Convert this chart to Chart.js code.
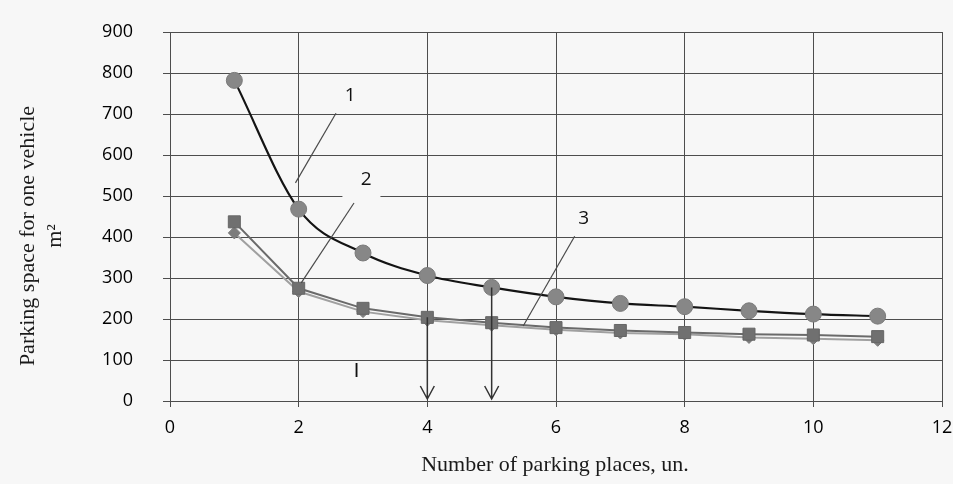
<!DOCTYPE html>
<html>
<head>
<meta charset="utf-8">
<script src="https://cdn.jsdelivr.net/npm/chart.js@4/dist/chart.umd.min.js"></script>
<style>
  html, body { margin: 0; padding: 0; background: #f7f7f7; }
  #wrap { width: 953px; height: 484px; }
</style>
</head>
<body>
<div id="wrap"><canvas id="parkingChart" width="953" height="484"></canvas></div>
<script>
// number of parking places
const places = [1, 2, 3, 4, 5, 6, 7, 8, 9, 10, 11];
// parking space for one vehicle, m2
const curve1 = [782, 468, 361, 306, 277, 254, 238, 230, 220, 212, 207];
const curve2 = [437, 275, 226, 204, 191, 179, 172, 167, 163, 161, 157];
const curve3 = [410, 267, 218, 197, 185, 174, 166, 163, 155, 152, 148];

const xTicks = [0, 2, 4, 6, 8, 10, 12];
const yTicks = [0, 100, 200, 300, 400, 500, 600, 700, 800, 900];

// curve labels with leader lines, in data units
const curveLabels = ["1", "2", "3"];
const labelAt = [[2.8, 746], [3.05, 539], [6.43, 446]];
const leaderFrom = [[2.58, 702], [2.86, 483], [6.29, 402]];
const leaderTo = [[1.95, 532], [2.04, 288], [5.49, 183]];

// arrows down to the x axis
const arrowX = [4, 5];
const arrowFrom = [204, 277];

const markI = { text: "I", x: 2.9, y: 71 };

const BG = "#f7f7f7";
const GRID = "#4d4d4d";

const toPoints = vals => vals.map((v, i) => ({ x: places[i], y: v }));

const annotations = {
    id: "annotations",
    afterDatasetsDraw(chart){
        const ctx = chart.ctx;
        const xs = chart.scales.x;
        const ys = chart.scales.y;
        ctx.save();
        // gap in the grid behind label 2
        ctx.fillStyle = BG;
        ctx.fillRect(xs.getPixelForValue(2.68), ys.getPixelForValue(500) - 4, 38, 8);

        // leader lines
        ctx.strokeStyle = "#4a4a4a";
        ctx.lineWidth = 1.2;
        for(let i = 0; i < curveLabels.length; i++){
            ctx.beginPath();
            ctx.moveTo(xs.getPixelForValue(leaderFrom[i][0]), ys.getPixelForValue(leaderFrom[i][1]));
            ctx.lineTo(xs.getPixelForValue(leaderTo[i][0]), ys.getPixelForValue(leaderTo[i][1]));
            ctx.stroke();
        }
        // labels
        ctx.fillStyle = "#111";
        ctx.font = "19px 'Open Sans'";
        ctx.textAlign = "center";
        ctx.textBaseline = "middle";
        for(let i = 0; i < curveLabels.length; i++){
            ctx.fillText(curveLabels[i], xs.getPixelForValue(labelAt[i][0]), ys.getPixelForValue(labelAt[i][1]));
        }
        ctx.font = "20px 'Liberation Sans'";
        ctx.fillText(markI.text, xs.getPixelForValue(markI.x), ys.getPixelForValue(markI.y));

        // arrows
        ctx.strokeStyle = "#333";
        ctx.lineWidth = 1.5;
        for(let i = 0; i < arrowX.length; i++){
            const px = xs.getPixelForValue(arrowX[i]);
            const top = ys.getPixelForValue(arrowFrom[i]);
            const bot = ys.getPixelForValue(0) - 2;
            ctx.beginPath();
            ctx.moveTo(px, top);
            ctx.lineTo(px, bot);
            ctx.moveTo(px - 7, bot - 13);
            ctx.lineTo(px, bot);
            ctx.lineTo(px + 7, bot - 13);
            ctx.stroke();
        }
        ctx.restore();
    },
    afterDraw(chart){
        const ctx = chart.ctx;
        ctx.save();
        ctx.fillStyle = "#1a1a1a";
        ctx.textAlign = "center";
        ctx.textBaseline = "middle";
        ctx.font = "22px 'Liberation Serif'";
        ctx.fillText("Number of parking places, un.", 555, 465);
        ctx.translate(28, 236);
        ctx.rotate(-Math.PI / 2);
        ctx.font = "22px 'Liberation Serif'";
        ctx.fillText("Parking space for one vehicle", 0, 0);
        ctx.fillText("m\u00B2", 0, 27);
        ctx.restore();
    }
};

new Chart(document.getElementById("parkingChart"), {
    type: "scatter",
    data: {
        datasets: [
            {
                label: "1",
                data: toPoints(curve1),
                showLine: true,
                borderColor: "#141414",
                borderWidth: 2.2,
                cubicInterpolationMode: "monotone",
                pointStyle: "circle",
                pointRadius: 8,
                pointBackgroundColor: "#878787",
                pointBorderColor: "#7a7a7a",
                pointBorderWidth: 1,
                order: 1
            },
            {
                label: "2",
                data: toPoints(curve2),
                showLine: true,
                borderColor: "#6a6a6a",
                borderWidth: 2,
                tension: 0,
                pointStyle: "rect",
                pointRadius: 8.5,
                pointBackgroundColor: "#707070",
                pointBorderColor: "#666",
                pointBorderWidth: 1,
                order: 2
            },
            {
                label: "3",
                data: toPoints(curve3),
                showLine: true,
                borderColor: "#a0a0a0",
                borderWidth: 2,
                tension: 0,
                pointStyle: "rectRot",
                pointRadius: 6,
                pointBackgroundColor: "#7c7c7c",
                pointBorderColor: "#777",
                pointBorderWidth: 1,
                order: 3
            }
        ]
    },
    options: {
        responsive: false,
        animation: false,
        layout: { padding: { top: 32, right: 11, left: 0, bottom: 0 } },
        plugins: {
            legend: { display: false },
            tooltip: { enabled: false }
        },
        scales: {
            x: {
                type: "linear",
                min: 0,
                max: 12,
                afterBuildTicks: s => { s.ticks = xTicks.map(v => ({ value: v })); },
                afterFit: s => {
                    s.height = 83;
                    s.paddingLeft = 0;
                    s.paddingRight = 0;
                },
                grid: { color: GRID, lineWidth: 1, tickLength: 6, tickColor: GRID },
                border: { color: GRID, width: 1 },
                ticks: {
                    color: "#000",
                    font: { family: "'Open Sans'", size: 18 },
                    padding: 10,
                    maxRotation: 0
                }
            },
            y: {
                min: 0,
                max: 900,
                afterBuildTicks: s => { s.ticks = yTicks.map(v => ({ value: v })); },
                afterFit: s => {
                    s.width = 170;
                    s.paddingTop = 0;
                    s.paddingBottom = 0;
                },
                grid: { color: GRID, lineWidth: 1, tickLength: 7, tickColor: GRID },
                border: { color: GRID, width: 1 },
                ticks: {
                    color: "#000",
                    font: { family: "'Open Sans'", size: 18 },
                    padding: 30
                }
            }
        }
    },
    plugins: [annotations]
});
</script>
</body>
</html>
